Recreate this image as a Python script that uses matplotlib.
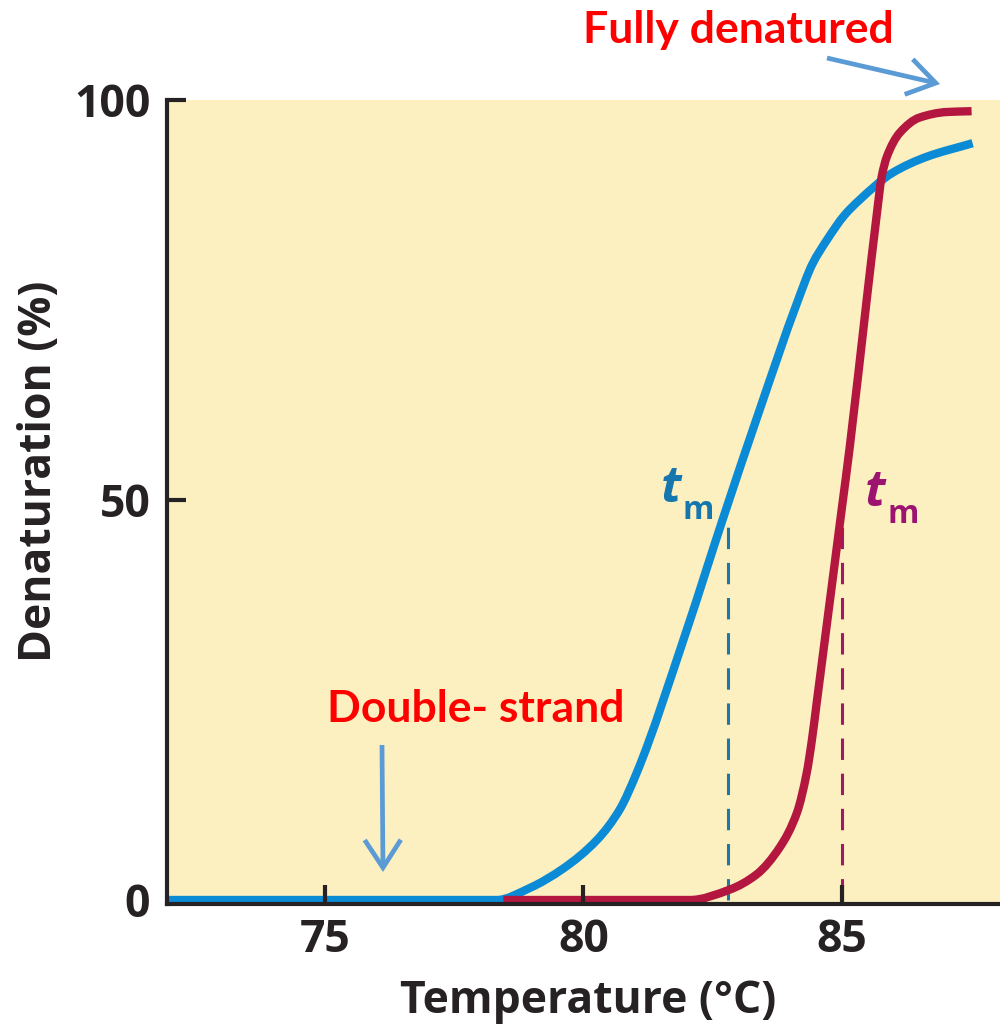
import matplotlib
matplotlib.use("Agg")
import matplotlib.pyplot as plt
from matplotlib.path import Path
from matplotlib.patches import PathPatch, FancyArrowPatch

# Melting curves: temperature (°C) vs. denaturation (%)
blue_temp = [71.9, 78.32, 78.96, 79.60, 80.26, 80.70, 81.03, 82.00, 82.69, 83.41,
             84.13, 84.43, 84.71, 85.05, 85.34, 85.98, 86.64, 87.53]
blue_den = [0.0, 0.0, 1.5, 3.9, 7.5, 11.3, 15.9, 33.8, 47.5, 61.3,
            74.6, 79.5, 82.5, 85.6, 87.5, 90.9, 92.9, 94.6]

red_temp = [78.45, 82.06, 82.83, 83.35, 83.80, 84.13, 84.32, 84.42, 84.51, 84.76,
            85.00, 85.15, 85.48, 85.67, 85.77, 85.87, 86.12, 86.50, 87.03, 87.51]
red_den = [0.0, 0.0, 1.3, 3.2, 6.6, 10.9, 15.9, 20.0, 24.5, 37.0,
           49.0, 56.5, 75.0, 85.4, 90.4, 92.9, 95.9, 97.8, 98.5, 98.6]

# Melting temperatures and the curve height where the marker lines stop
tm_blue, tm_blue_top = 82.79, 48.0
tm_red, tm_red_top = 85.0, 47.0

x_ticks = [75, 80, 85]
y_ticks = [0, 50, 100]

BG = "#fcefc0"
INK = "#262223"
BLUE = "#0b8ad6"
RED = "#b3163f"
BLUE_DASH = "#1a79a8"
RED_DASH = "#a0186a"
BLUE_TM = "#1577ae"
RED_TM = "#9c1470"
NOTE_RED = "#ff0000"
ARROW = "#5b9bd5"

W, H = 1000, 1029
fig = plt.figure(figsize=(W / 100, H / 100), dpi=100)
ax = fig.add_axes([167 / W, (H - 904) / H, (W - 167) / W, 804 / H])
ax.set_facecolor(BG)
ax.set_xlim(71.94, 88.06)
ax.set_ylim(-0.5, 100)

for side in ("top", "right"):
    ax.spines[side].set_visible(False)
for side in ("left", "bottom"):
    ax.spines[side].set_linewidth(3.0)
    ax.spines[side].set_color(INK)

ax.set_axisbelow(False)
tick_font = dict(family="Open Sans", weight="bold", size=32)
ax.set_xticks(x_ticks)
ax.set_xticklabels([str(t) for t in x_ticks], fontdict=tick_font, color=INK)
ax.set_yticks(y_ticks)
ax.set_yticklabels([str(t) for t in y_ticks], fontdict=tick_font, color=INK)
ax.tick_params(axis="both", direction="in", length=14, width=3, color=INK)
ax.tick_params(axis="x", pad=10)
ax.tick_params(axis="y", pad=12)
ax.yaxis.get_major_ticks()[0].tick1line.set_visible(False)


def smooth_curve(xs, ys, color, z):
    """Draw a monotone (Fritsch-Carlson) cubic through the points as Bezier segments."""
    n = len(xs)
    h = [xs[i + 1] - xs[i] for i in range(n - 1)]
    d = [(ys[i + 1] - ys[i]) / h[i] for i in range(n - 1)]
    m = [0.0] * n
    m[0], m[-1] = d[0], d[-1]
    for k in range(1, n - 1):
        if d[k - 1] * d[k] <= 0:
            m[k] = 0.0
        else:
            w1 = 2 * h[k] + h[k - 1]
            w2 = h[k] + 2 * h[k - 1]
            m[k] = (w1 + w2) / (w1 / d[k - 1] + w2 / d[k])
    verts = [(xs[0], ys[0])]
    codes = [Path.MOVETO]
    for i in range(n - 1):
        verts += [(xs[i] + h[i] / 3, ys[i] + m[i] * h[i] / 3),
                  (xs[i + 1] - h[i] / 3, ys[i + 1] - m[i + 1] * h[i] / 3),
                  (xs[i + 1], ys[i + 1])]
        codes += [Path.CURVE4] * 3
    ax.add_patch(PathPatch(Path(verts, codes), facecolor="none", edgecolor=color,
                           lw=6, capstyle="butt", joinstyle="round", zorder=z))


# dashed t_m markers
ax.plot([tm_blue, tm_blue], [0, tm_blue_top], color=BLUE_DASH, lw=2.2,
        dashes=(7, 4.5), zorder=1.8)
ax.plot([tm_red, tm_red], [0, tm_red_top], color=RED_DASH, lw=2.2,
        dashes=(7, 4.5), zorder=1.8)

# melting curves
smooth_curve(blue_temp, blue_den, BLUE, 2.1)
smooth_curve(red_temp, red_den, RED, 2.2)


# t_m labels
def tm_label(x, y, color):
    t = ax.text(x, y, "t", color=color, family="Open Sans", weight="bold",
                style="italic", size=36, ha="left", va="baseline", zorder=3)
    ax.annotate("m", xy=(1.0, 0.0), xycoords=t, xytext=(1, -4),
                textcoords="offset points", color=color, family="Open Sans",
                weight="bold", size=23, ha="left", va="baseline", zorder=3)


tm_label(81.50, 49.8, BLUE_TM)
tm_label(85.45, 49.3, RED_TM)

# axis titles
fig.text(588 / W, (H - 1001) / H, "Temperature (°C)", family="Open Sans",
         weight="bold", size=32, color=INK, ha="center", va="center")
fig.text(40 / W, (H - 471) / H, "Denaturation (%)", family="Open Sans",
         weight="bold", size=32, color=INK, ha="center", va="center",
         rotation=90)

# annotations
fig.text(583 / W, (H - 43) / H, "Fully denatured", family="Lato",
         weight="bold", size=32, color=NOTE_RED, ha="left", va="baseline")
fig.text(327 / W, (H - 722) / H, "Double- strand", family="Lato",
         weight="bold", size=32, color=NOTE_RED, ha="left", va="baseline")


def pointer(x0, y0, x1, y1):
    fig.patches.append(FancyArrowPatch(
        (x0 / W, (H - y0) / H), (x1 / W, (H - y1) / H),
        transform=fig.transFigure,
        arrowstyle="->,head_length=1.0,head_width=0.65",
        color=ARROW, lw=3.4, shrinkA=0, shrinkB=0, mutation_scale=20,
        joinstyle="miter", capstyle="butt"))


pointer(827, 58, 940, 84)
pointer(382, 745, 383, 872)

fig.savefig("out.png", dpi=100)
